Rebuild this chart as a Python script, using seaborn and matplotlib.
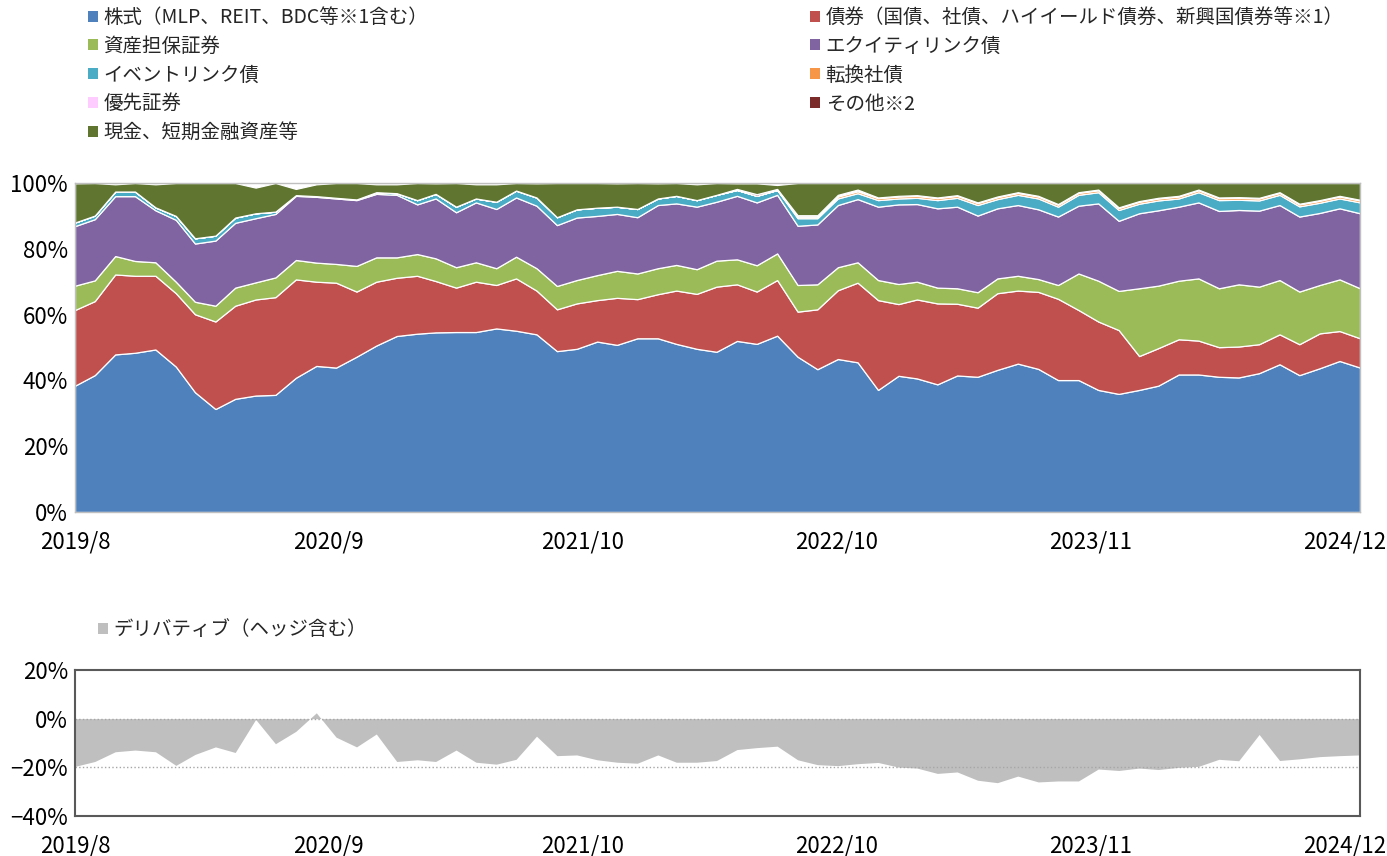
import pandas as pd
import seaborn as sns
import matplotlib
matplotlib.use("Agg")
import matplotlib.pyplot as plt
from matplotlib.patches import Patch

sns.set_style("white")
plt.rcParams['font.family'] = ['Noto Sans CJK JP', 'DejaVu Sans']

# month-end dates, 2019/8 - 2024/12
dates = pd.date_range("2019-08-31", periods=65, freq="ME")

# composition (%)
equity = [38.4, 41.6, 47.9, 48.4, 49.4, 44.2, 36.4, 31.3, 34.4, 35.4, 35.6, 40.8, 44.4, 43.9, 47.2, 50.6,
          53.5, 54.2, 54.6, 54.7, 54.7, 55.8, 55.1, 54.0, 48.9, 49.6, 51.8, 50.8, 52.8, 52.8, 51.1, 49.6,
          48.7, 52.0, 51.1, 53.6, 47.2, 43.4, 46.5, 45.5, 37.1, 41.4, 40.6, 38.8, 41.5, 41.1, 43.2, 45.1,
          43.5, 40.1, 40.1, 37.1, 35.9, 37.1, 38.4, 41.8, 41.8, 41.1, 40.9, 42.2, 44.9, 41.6, 43.7, 45.9, 43.9]
bonds = [23.0, 22.5, 24.3, 23.4, 22.4, 22.3, 23.7, 26.6, 28.3, 29.2, 29.7, 29.9, 25.6, 25.8, 19.8, 19.4,
         17.7, 17.6, 15.6, 13.5, 15.3, 13.2, 15.9, 13.3, 12.7, 13.8, 12.6, 14.3, 11.9, 13.4, 16.2, 16.7,
         19.8, 17.2, 15.9, 16.9, 13.7, 18.2, 20.9, 24.2, 27.3, 21.8, 24.0, 24.6, 21.8, 21.0, 23.3, 22.2,
         23.4, 24.7, 21.3, 20.8, 19.4, 10.3, 11.4, 10.7, 10.3, 9.0, 9.4, 8.8, 9.1, 9.4, 10.6, 9.1, 8.9]
abs_sec = [7.4, 6.3, 5.6, 4.5, 4.1, 3.5, 3.8, 4.8, 5.5, 5.2, 6.0, 5.9, 5.8, 5.7, 7.8, 7.4,
           6.2, 6.6, 6.9, 6.2, 5.9, 5.1, 6.6, 6.8, 7.1, 7.1, 7.6, 8.2, 7.8, 7.9, 7.8, 7.5,
           7.9, 7.6, 8.0, 8.1, 8.1, 7.6, 7.0, 6.2, 6.1, 6.1, 5.4, 4.8, 4.7, 4.7, 4.5, 4.5,
           3.9, 4.2, 11.1, 12.4, 11.9, 20.6, 19.0, 17.8, 18.9, 17.9, 18.9, 17.5, 16.5, 16.0, 14.7, 15.7, 15.2]
equity_linked = [18.1, 18.6, 18.2, 19.7, 15.8, 18.8, 17.7, 19.8, 19.7, 19.5, 19.3, 19.5, 20.0, 19.9, 20.0, 19.3,
                 19.0, 15.1, 18.2, 16.7, 18.2, 18.0, 18.0, 19.0, 18.5, 19.0, 18.0, 17.3, 17.1, 19.2, 18.7, 19.0,
                 17.9, 19.3, 19.1, 17.8, 18.0, 18.2, 18.9, 19.2, 22.3, 24.2, 23.6, 24.1, 24.8, 23.3, 21.3, 21.5,
                 21.2, 20.8, 20.6, 23.5, 21.3, 22.8, 22.9, 22.5, 23.1, 23.5, 22.6, 23.1, 22.8, 22.8, 21.9, 21.6, 22.8]
event_linked = [1.1, 1.1, 1.4, 1.4, 0.9, 1.2, 1.6, 1.5, 1.6, 1.5, 0.7, 0.2, 0.2, 0.2, 0.2, 0.5,
                0.5, 1.3, 1.4, 1.7, 1.2, 2.2, 2.1, 2.5, 2.4, 2.5, 2.5, 2.2, 2.5, 2.0, 2.3, 2.0,
                2.1, 1.8, 2.0, 1.5, 2.3, 1.9, 2.0, 1.8, 2.0, 1.8, 1.9, 2.5, 2.7, 3.2, 2.8, 3.1,
                3.3, 3.0, 3.3, 3.4, 3.3, 2.9, 3.0, 2.5, 3.1, 3.3, 3.1, 3.1, 3.1, 3.1, 3.1, 3.0, 3.3]
convertible = [0] * 36 + [0.5, 0.5] + [0.6] * 27
preferred = [0] * 38 + [0.2] * 27
other = [0] * 33 + [0.3, 0.5, 0.3, 0.4, 0.4, 0.3, 0.3] + [0] * 25
cash = [11.9, 9.9, 2.2, 2.6, 7.0, 10.0, 16.8, 16.0, 10.5, 7.8, 8.7, 1.9, 3.6, 4.5, 5.0, 2.4,
        2.7, 5.2, 3.2, 7.2, 4.3, 5.3, 2.3, 4.3, 10.4, 8.0, 7.5, 7.1, 7.9, 4.6, 3.9, 4.8,
        3.6, 1.7, 3.3, 1.2, 9.8, 9.8, 3.6, 2.0, 4.4, 3.9, 3.7, 4.4, 3.7, 5.9, 4.1, 2.8,
        3.9, 6.4, 2.8, 2.0, 7.4, 5.5, 4.5, 3.9, 2.0, 4.4, 4.3, 4.5, 2.8, 6.3, 5.2, 3.9, 5.1]

# derivatives incl. hedges (%)
derivatives = [-19.6, -17.6, -13.6, -12.9, -13.6, -19.2, -14.7, -11.6, -13.9, -0.3, -10.3, -5.2, 2.4, -7.6,
               -11.6, -6.3, -17.6, -16.9, -17.6, -12.9, -17.9, -18.7, -16.7, -7.2, -15.2, -14.9, -16.9, -17.9,
               -18.3, -14.9, -17.9, -17.9, -17.2, -12.7, -11.9, -11.3, -16.9, -18.9, -19.3, -18.5, -18.0, -19.9,
               -20.3, -22.5, -21.9, -25.3, -26.3, -23.6, -26.0, -25.6, -25.6, -20.7, -21.3, -20.3, -20.9, -20.0,
               -19.6, -16.7, -17.3, -6.5, -17.2, -16.5, -15.6, -15.2, -14.9]

names = ['株式（MLP、REIT、BDC等※1含む）', '債券（国債、社債、ハイイールド債券、新興国債券等※1）',
         '資産担保証券', 'エクイティリンク債', 'イベントリンク債', '転換社債', '優先証券', 'その他※2',
         '現金、短期金融資産等']
colors = ['#4F81BD', '#C0504D', '#9BBB59', '#8064A2', '#4BACC6', '#F79646', '#FFCCFF', '#7B2C2A', '#5F7530']
layers = [equity, bonds, abs_sec, equity_linked, event_linked, convertible, preferred, other, cash]

ticks = [dates[0] + pd.Timedelta(days=385 * k) for k in range(6)]
tick_labels = [f"{d.year}/{d.month}" for d in ticks]

fig = plt.figure(figsize=(13.87, 8.56), dpi=100)

# top: asset composition
ax1 = fig.add_axes([75 / 1387, 1 - 512 / 856, 1285 / 1387, 329 / 856])
ax1.stackplot(dates, *layers, colors=colors, edgecolor='white', linewidth=0.9)
ax1.set_xlim(dates[0], dates[-1])
ax1.set_ylim(0, 100)
ax1.set_yticks(range(0, 101, 20))
ax1.set_yticklabels([f"{v}%" for v in range(0, 101, 20)])
ax1.set_xticks(ticks)
ax1.set_xticklabels(tick_labels)
ax1.tick_params(length=0, labelsize=16, colors='black')
ax1.tick_params(axis='x', pad=13)
ax1.tick_params(axis='y', pad=5)
for s in ax1.spines.values():
    s.set_color('#BFBFBF')
    s.set_linewidth(1)

# bottom: derivatives
ax2 = fig.add_axes([75 / 1387, 1 - 816 / 856, 1285 / 1387, 146 / 856])
ax2.fill_between(dates, derivatives, 0, color='#BFBFBF', linewidth=0)
ax2.axhline(0, color='#A6A6A6', lw=1, ls=':')
ax2.axhline(-20, color='#A6A6A6', lw=1, ls=':')
ax2.set_xlim(dates[0], dates[-1])
ax2.set_ylim(-40, 20)
ax2.set_yticks([-40, -20, 0, 20])
ax2.set_yticklabels([f"{v}%".replace('-', '\u2212') for v in [-40, -20, 0, 20]])
ax2.set_xticks(ticks)
ax2.set_xticklabels(tick_labels)
ax2.tick_params(length=0, labelsize=16, colors='black')
ax2.tick_params(axis='x', pad=13)
ax2.tick_params(axis='y', pad=5)
for s in ax2.spines.values():
    s.set_color('#595959')
    s.set_linewidth(1.5)

# legends
handles = [Patch(facecolor=c, edgecolor='none', label=n) for c, n in zip(colors, names)]
left = [handles[i] for i in (0, 2, 4, 6, 8)]
right = [handles[i] for i in (1, 3, 5, 7)]
leg_kw = dict(loc='upper left', frameon=False, fontsize=14, handlelength=0.5, handleheight=0.5,
              handletextpad=0.3, labelspacing=0.4, borderaxespad=0, borderpad=0)
fig.legend(handles=left, bbox_to_anchor=(88 / 1387, 1 - 7 / 856), **leg_kw)
fig.legend(handles=right, bbox_to_anchor=(810 / 1387, 1 - 7 / 856), **leg_kw)
fig.legend(handles=[Patch(facecolor='#BFBFBF', edgecolor='none', label='デリバティブ（ヘッジ含む）')],
           bbox_to_anchor=(98 / 1387, 1 - 619 / 856), **leg_kw)

fig.savefig("out.png", dpi=100)
